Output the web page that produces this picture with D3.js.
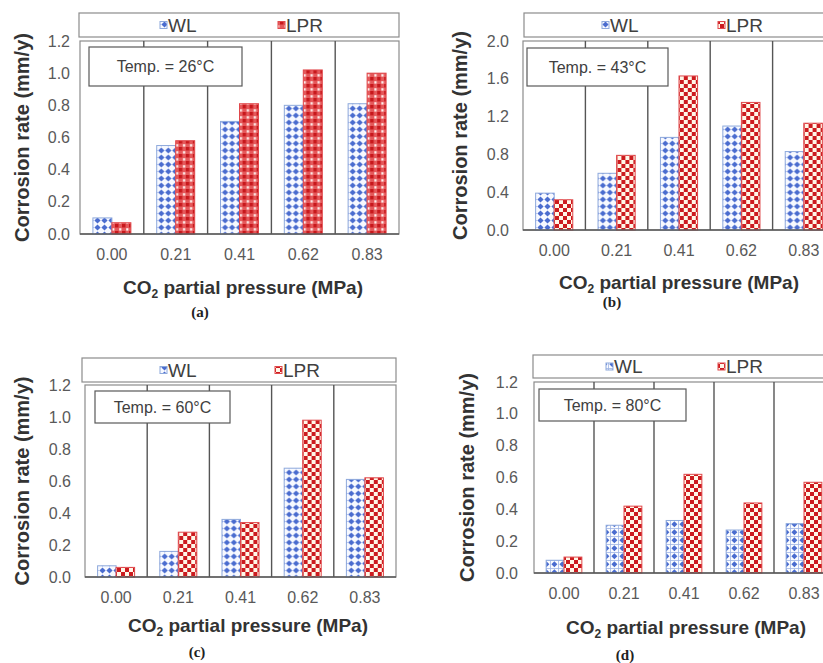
<!DOCTYPE html>
<html>
<head>
<meta charset="utf-8">
<script src="https://cdn.jsdelivr.net/npm/d3@7"></script>
<style>
  html, body { margin: 0; padding: 0; background: #fff; }
  svg { display: block; overflow: hidden; }
</style>
</head>
<body>
<svg id="fig" width="823" height="663"></svg>
<script>
// Corrosion rate (mm/y) measured by weight loss (WL) and LPR at each CO2 partial pressure
const categories = ["0.00", "0.21", "0.41", "0.62", "0.83"];
const seriesNames = ["WL", "LPR"];
const temperatures = ["26", "43", "60", "80"];
const panelLabels = ["(a)", "(b)", "(c)", "(d)"];

const wl26  = [0.10, 0.55, 0.70, 0.80, 0.81];
const lpr26 = [0.07, 0.58, 0.81, 1.02, 1.00];
const wl43  = [0.39, 0.60, 0.98, 1.10, 0.83];
const lpr43 = [0.32, 0.79, 1.63, 1.35, 1.13];
const wl60  = [0.07, 0.16, 0.36, 0.68, 0.61];
const lpr60 = [0.06, 0.28, 0.34, 0.98, 0.62];
const wl80  = [0.08, 0.30, 0.33, 0.27, 0.31];
const lpr80 = [0.10, 0.42, 0.62, 0.44, 0.57];

const yTicksLow  = [0, 0.2, 0.4, 0.6, 0.8, 1.0, 1.2];
const yTicksHigh = [0, 0.4, 0.8, 1.2, 1.6, 2.0];

// Panel layout (page pixels)
const panels = [
  { label: panelLabels[0], temp: temperatures[0], wl: wl26, lpr: lpr26, ticks: yTicksLow,
    plot: { x0: 80, x1: 399, y0: 41, y1: 234 },
    legend: { x0: 79, x1: 399, y0: 13, y1: 37, wlX: 160, lprX: 278 },
    tempBox: { x0: 89, x1: 242, y0: 47, y1: 86 },
    tickRight: 70, tickLabelY: 254, yTitleX: 22, xTitle: { x: 243, y: 287 }, sub: { x: 200, y: 312 },
    wlPat: "wlDiamond", lprPat: "lprSoft" },
  { label: panelLabels[1], temp: temperatures[1], wl: wl43, lpr: lpr43, ticks: yTicksHigh,
    plot: { x0: 523, x1: 835, y0: 41, y1: 230 },
    legend: { x0: 524, x1: 836, y0: 13, y1: 37, wlX: 602, lprX: 718 },
    tempBox: { x0: 527, x1: 668, y0: 48, y1: 86 },
    tickRight: 509, tickLabelY: 250, yTitleX: 460, xTitle: { x: 679, y: 282 }, sub: { x: 612, y: 302 },
    wlPat: "wlDiamond", lprPat: "lprChecker" },
  { label: panelLabels[2], temp: temperatures[2], wl: wl60, lpr: lpr60, ticks: yTicksLow,
    plot: { x0: 85, x1: 396, y0: 385, y1: 577 },
    legend: { x0: 82, x1: 396, y0: 358, y1: 382, wlX: 160, lprX: 275 },
    tempBox: { x0: 95, x1: 230, y0: 391, y1: 423 },
    tickRight: 71, tickLabelY: 597, yTitleX: 22, xTitle: { x: 248, y: 625 }, sub: { x: 197, y: 652 },
    wlPat: "wlDiamond", lprPat: "lprChecker" },
  { label: panelLabels[3], temp: temperatures[3], wl: wl80, lpr: lpr80, ticks: yTicksLow,
    plot: { x0: 534, x1: 834, y0: 382, y1: 573 },
    legend: { x0: 533, x1: 836, y0: 355, y1: 378, wlX: 606, lprX: 718 },
    tempBox: { x0: 539, x1: 686, y0: 389, y1: 421 },
    tickRight: 518, tickLabelY: 593, yTitleX: 467, xTitle: { x: 686, y: 627 }, sub: { x: 625, y: 655 },
    wlPat: "wlGrid", lprPat: "lprChecker" }
];

const BLUE = "#4a6ccf", BLUE_EDGE = "#8ea9dc";
const RED = "#cc1b1f", RED_EDGE = "#e0484b", CREAM = "#fff7e8";
const FONT = "'Liberation Sans', Arial, sans-serif";

const svg = d3.select("#fig");
const defs = svg.append("defs");

// Fill patterns
function pattern(id, w, h) {
  return defs.append("pattern").attr("id", id)
    .attr("patternUnits", "userSpaceOnUse").attr("width", w).attr("height", h);
}
let p = pattern("wlDiamond", 7, 7);
p.append("rect").attr("width", 7).attr("height", 7).attr("fill", "#f7f9ff");
p.append("path").attr("d", "M3.5,0.4L6.6,3.5L3.5,6.6L0.4,3.5Z").attr("fill", BLUE);

p = pattern("wlGrid", 8, 8);
p.append("rect").attr("width", 8).attr("height", 8).attr("fill", "#fbfcff");
p.append("path").attr("d", "M0,0.4H8M0.4,0V8").attr("stroke", "#9fb4e4").attr("stroke-width", 0.9);
p.append("path").attr("d", "M4.4,1.2L7.4,4.2L4.4,7.2L1.4,4.2Z").attr("fill", BLUE);

p = pattern("lprChecker", 8, 8);
p.append("rect").attr("width", 8).attr("height", 8).attr("fill", CREAM);
p.append("rect").attr("width", 4).attr("height", 4).attr("fill", RED);
p.append("rect").attr("x", 4).attr("y", 4).attr("width", 4).attr("height", 4).attr("fill", RED);

p = pattern("lprSoft", 7, 7);
p.append("rect").attr("width", 7).attr("height", 7).attr("fill", "#e5595b");
p.append("rect").attr("x", 0).attr("y", 0).attr("width", 3.5).attr("height", 3.5).attr("fill", "#c8181c");
p.append("rect").attr("x", 4.2).attr("y", 4.2).attr("width", 2.2).attr("height", 2.4).attr("fill", "#fff3f0");

panels.forEach(P => {
  const g = svg.append("g");
  const x = d3.scaleBand().domain(categories).range([P.plot.x0, P.plot.x1]).padding(0);
  const xs = d3.scaleBand().domain(seriesNames).range([0, x.bandwidth()])
    .paddingInner(0).paddingOuter(0.68);
  const y = d3.scaleLinear().domain([0, d3.max(P.ticks)]).range([P.plot.y1, P.plot.y0]);

  // Legend box
  g.append("rect")
    .attr("x", P.legend.x0).attr("y", P.legend.y0)
    .attr("width", P.legend.x1 - P.legend.x0).attr("height", P.legend.y1 - P.legend.y0)
    .attr("fill", "#fff").attr("stroke", "#8c8c8c").attr("stroke-width", 1.2);
  const ly = (P.legend.y0 + P.legend.y1) / 2;
  const legendItems = [
    { name: seriesNames[0], x: P.legend.wlX, pat: P.wlPat, edge: BLUE_EDGE },
    { name: seriesNames[1], x: P.legend.lprX, pat: P.lprPat, edge: RED_EDGE }
  ];
  legendItems.forEach(it => {
    g.append("rect").attr("x", it.x).attr("y", ly - 3.5).attr("width", 7).attr("height", 7)
      .attr("fill", `url(#${it.pat})`).attr("stroke", it.edge).attr("stroke-width", 1);
    g.append("text").attr("x", it.x + 8).attr("y", ly).attr("dy", "0.36em")
      .attr("font-family", FONT).attr("font-size", 19).attr("fill", "#404040")
      .text(it.name);
  });

  // Plot frame
  g.append("rect")
    .attr("x", P.plot.x0).attr("y", P.plot.y0)
    .attr("width", P.plot.x1 - P.plot.x0).attr("height", P.plot.y1 - P.plot.y0)
    .attr("fill", "#fff").attr("stroke", "#8c8c8c").attr("stroke-width", 1.2);

  // Category dividers
  g.append("g").selectAll("line").data(categories.slice(1)).join("line")
    .attr("x1", d => x(d)).attr("x2", d => x(d))
    .attr("y1", P.plot.y0).attr("y2", P.plot.y1)
    .attr("stroke", "#555").attr("stroke-width", 1.4);

  // Bars
  const rows = categories.map((c, i) => ({ cat: c, WL: P.wl[i], LPR: P.lpr[i] }));
  const groups = g.append("g").selectAll("g").data(rows).join("g")
    .attr("transform", d => `translate(${x(d.cat)},0)`);
  groups.selectAll("rect")
    .data(d => seriesNames.map(s => ({ s, v: d[s] })))
    .join("rect")
    .attr("x", d => xs(d.s)).attr("width", xs.bandwidth())
    .attr("y", d => y(d.v)).attr("height", d => y(0) - y(d.v))
    .attr("fill", d => d.s === "WL" ? `url(#${P.wlPat})` : `url(#${P.lprPat})`)
    .attr("stroke", d => d.s === "WL" ? BLUE_EDGE : RED_EDGE)
    .attr("stroke-width", 1);

  // Baseline
  g.append("line").attr("x1", P.plot.x0).attr("x2", P.plot.x1)
    .attr("y1", P.plot.y1).attr("y2", P.plot.y1)
    .attr("stroke", "#595959").attr("stroke-width", 1.4);

  // Temperature box
  g.append("rect")
    .attr("x", P.tempBox.x0).attr("y", P.tempBox.y0)
    .attr("width", P.tempBox.x1 - P.tempBox.x0).attr("height", P.tempBox.y1 - P.tempBox.y0)
    .attr("fill", "#fff").attr("stroke", "#595959").attr("stroke-width", 1.2);
  g.append("text")
    .attr("x", (P.tempBox.x0 + P.tempBox.x1) / 2).attr("y", (P.tempBox.y0 + P.tempBox.y1) / 2)
    .attr("dy", "0.36em").attr("text-anchor", "middle")
    .attr("font-family", FONT).attr("font-size", 16).attr("fill", "#404040")
    .text(`Temp. = ${P.temp}°C`);

  // Axes
  const tickFs = 16;
  const yAxis = d3.axisLeft(y).tickValues(P.ticks).tickSize(0)
    .tickPadding(P.plot.x0 - P.tickRight).tickFormat(d3.format(".1f"));
  const ya = g.append("g").attr("transform", `translate(${P.plot.x0},0)`).call(yAxis);
  const xAxis = d3.axisBottom(x).tickSize(0)
    .tickPadding(P.tickLabelY - P.plot.y1 - 0.35 * tickFs);
  const xa = g.append("g").attr("transform", `translate(0,${P.plot.y1})`).call(xAxis);
  [ya, xa].forEach(a => {
    a.select(".domain").remove();
    a.selectAll("text").attr("font-family", FONT).attr("font-size", tickFs).attr("fill", "#595959");
  });

  // Axis titles
  const xt = g.append("text").attr("x", P.xTitle.x).attr("y", P.xTitle.y).attr("dy", "0.36em")
    .attr("text-anchor", "middle").attr("font-family", FONT).attr("font-size", 19)
    .attr("font-weight", "bold").attr("fill", "#333");
  xt.append("tspan").text("CO");
  xt.append("tspan").attr("font-size", 12).attr("dy", 4).text("2");
  xt.append("tspan").attr("dy", -4).text(" partial pressure (MPa)");

  g.append("text")
    .attr("transform", `translate(${P.yTitleX},${(P.plot.y0 + P.plot.y1) / 2}) rotate(-90)`)
    .attr("dy", "0.36em").attr("text-anchor", "middle")
    .attr("font-family", FONT).attr("font-size", 20).attr("font-weight", "bold").attr("fill", "#333")
    .text("Corrosion rate (mm/y)");

  // Panel label
  g.append("text").attr("x", P.sub.x).attr("y", P.sub.y).attr("dy", "0.36em")
    .attr("text-anchor", "middle").attr("font-family", "'Liberation Serif', 'Times New Roman', serif")
    .attr("font-size", 15).attr("font-weight", "bold").attr("fill", "#222")
    .text(P.label);
});
</script>
</body>
</html>
